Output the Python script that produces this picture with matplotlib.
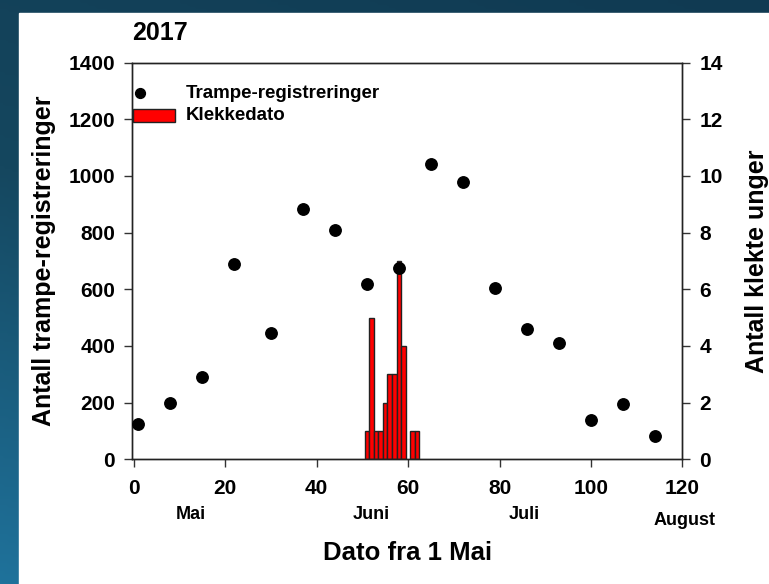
import numpy as np
import matplotlib
matplotlib.use("Agg")
import matplotlib.pyplot as plt
from matplotlib.colors import LinearSegmentedColormap
from matplotlib.patches import Rectangle

plt.rcParams['font.family'] = ['Liberation Sans', 'DejaVu Sans']
plt.rcParams['font.weight'] = 'bold'

# trampe-registreringer (dag fra 1 mai, antall)
days = [1, 8, 15, 22, 30, 37, 44, 51, 58, 65, 72, 79, 86, 93, 100, 107, 114]
counts = [125, 200, 292, 690, 446, 884, 808, 618, 675, 1041, 978, 606, 460, 411, 138, 195, 82]

# klekkedato (dag, antall klekte unger)
hatch_days = [51, 52, 53, 54, 55, 56, 57, 58, 59, 61, 62]
hatch_n = [1, 5, 1, 1, 2, 3, 3, 7, 4, 1, 1]

month_pos = [12.5, 52, 85.5, 120.5]
month_names = ['Mai', 'Juni', 'Juli', 'August']

fig = plt.figure(figsize=(7.69, 5.84), dpi=100)

# blue gradient background with white panel
bg = fig.add_axes([0, 0, 1, 1])
cmap = LinearSegmentedColormap.from_list('bg', ['#1f729b', '#15475f', '#103a52'])
yy, xx = np.mgrid[0:1:200j, 0:1:200j]
grad = (1 - yy) * 0.7 + xx * 0.3
bg.imshow(grad, cmap=cmap, extent=[0, 1, 0, 1], aspect='auto', origin='upper')
bg.add_patch(Rectangle((19 / 769, 0), 1, 1 - 13 / 584, color='white'))
bg.set_xlim(0, 1)
bg.set_ylim(0, 1)
bg.axis('off')

ax = fig.add_axes([0.1713, 0.2135, 0.7162, 0.6793])
ax2 = ax.twinx()
ax.set_zorder(ax2.get_zorder() + 1)
ax.patch.set_visible(False)

ax2.bar(hatch_days, hatch_n, width=1.0, color='#ff0000', edgecolor='#222222', linewidth=1.0)
ax.scatter(days, counts, s=68, color='black', zorder=3)

ax.set_xlim(-0.4, 120)
ax.set_ylim(0, 1400)
ax2.set_ylim(0, 14)
ax.set_xticks(range(0, 121, 20))
ax.set_yticks(range(0, 1401, 200))
ax2.set_yticks(range(0, 15, 2))

for a in (ax, ax2):
    a.tick_params(direction='out', length=6, width=1, labelsize=15, colors='#333333',
                  labelcolor='black', pad=6)
    for s in a.spines.values():
        s.set_color('#222222')
        s.set_linewidth(1)
ax.tick_params(axis='x', pad=8)
for lab in ax.get_xticklabels() + ax.get_yticklabels() + ax2.get_yticklabels():
    lab.set_fontweight('bold')

ax.set_ylabel('Antall trampe-registreringer', fontsize=18, fontweight='bold', labelpad=9)
ax2.set_ylabel('Antall klekte unger', fontsize=18, fontweight='bold', labelpad=16)
ax.set_xlabel('Dato fra 1 Mai', fontsize=18.5, fontweight='bold', labelpad=31)

for p, m in zip(month_pos, month_names):
    yoff = -0.155 if m == 'August' else -0.14
    ax.text(p, yoff, m, transform=ax.get_xaxis_transform(), ha='center', va='center',
            fontsize=13, fontweight='bold')

ax.text(0.0, 1.075, '2017', transform=ax.transAxes, fontsize=18, fontweight='bold',
        ha='left', va='center')

# legend, drawn the SigmaPlot way (dot at left, patch spanning the handle area)
ax.scatter([0.015], [0.923], s=50, color='black', transform=ax.transAxes, clip_on=False, zorder=4)
ax.add_patch(Rectangle((0.0024, 0.850), 0.0762, 0.033, transform=ax.transAxes,
                       facecolor='#ff0000', edgecolor='#222222', linewidth=1.0, zorder=4))
ax.text(0.0986, 0.923, 'Trampe-registreringer', transform=ax.transAxes, fontsize=13.5,
        fontweight='bold', va='center', ha='left')
ax.text(0.0986, 0.866, 'Klekkedato', transform=ax.transAxes, fontsize=13.5,
        fontweight='bold', va='center', ha='left')

fig.savefig('out.png', dpi=100)
